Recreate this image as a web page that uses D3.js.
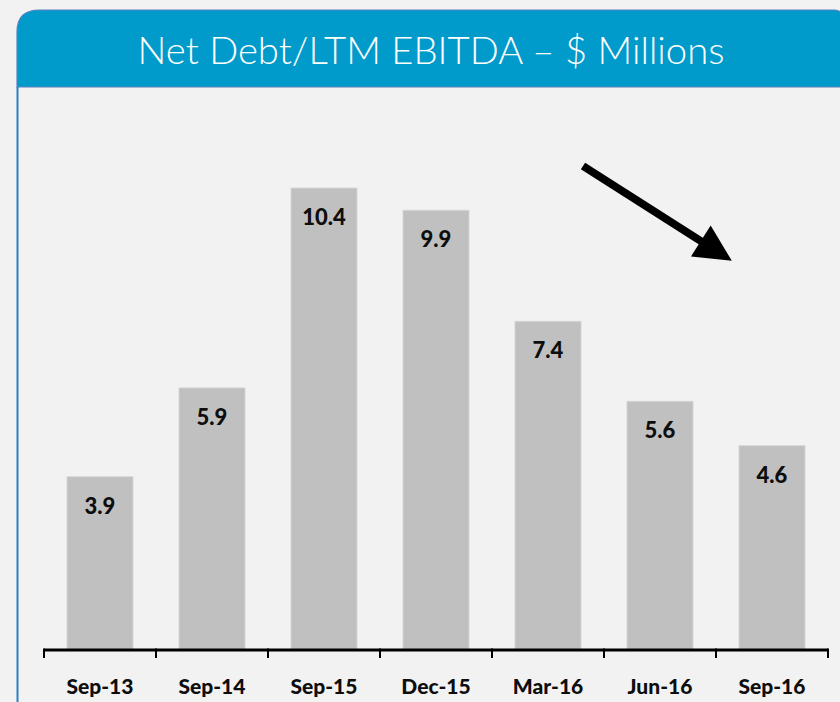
<!DOCTYPE html>
<html>
<head>
<meta charset="utf-8">
<script src="https://cdn.jsdelivr.net/npm/d3@7"></script>
<style>
  body { margin: 0; background: #f2f2f2; }
  svg { display: block; }
</style>
</head>
<body>
<div id="chart"></div>
<script>
const categories = ['Sep-13', 'Sep-14', 'Sep-15', 'Dec-15', 'Mar-16', 'Jun-16', 'Sep-16']
const values = [3.9, 5.9, 10.4, 9.9, 7.4, 5.6, 4.6]
const title = 'Net Debt/LTM EBITDA \u2013 $ Millions'

const width = 840
const height = 702

let svg = d3.select('#chart').append('svg')
    .attr('width', width)
    .attr('height', height)

svg.append('rect')
    .attr('width', width).attr('height', height)
    .attr('fill', '#f2f2f2')

// header panel with rounded top corners
let hx = 17, hy = 10, hw = 840 - 17 + 1, hh = 77, r = 22
svg.append('path')
    .attr('d', `M${hx},${hy + hh} L${hx},${hy + r} Q${hx},${hy} ${hx + r},${hy} L${hx + hw - 6},${hy} Q${hx + hw},${hy} ${hx + hw},${hy + 6} L${hx + hw},${hy + hh} Z`)
    .attr('fill', '#009bcb')
    .attr('stroke', '#5b80c0')
    .attr('stroke-width', 1.2)

// left border of panel
svg.append('line')
    .attr('x1', 17.5).attr('x2', 17.5)
    .attr('y1', hy + hh).attr('y2', height)
    .attr('stroke', '#2a80c2')
    .attr('stroke-width', 2)

svg.append('text')
    .attr('x', 431).attr('y', 64)
    .attr('text-anchor', 'middle')
    .attr('fill', 'white')
    .style('font-family', 'Lato, "Open Sans", sans-serif')
    .style('font-weight', 300)
    .style('font-size', '38px')
    .attr('textLength', 587)
    .attr('lengthAdjust', 'spacingAndGlyphs')
    .text(title)

let margin = {left: 44, right: 12, bottom: 52}
let baseY = 650

let x = d3.scaleBand()
    .domain(categories)
    .range([margin.left, 828])
    .paddingInner(0.41)
    .paddingOuter(0.205)

let y = d3.scaleLinear()
    .domain([0, 10.4])
    .range([baseY, 188])

let data = categories.map((c, i) => ({cat: c, v: values[i]}))

svg.selectAll('rect.bar')
    .data(data)
    .enter().append('rect')
    .attr('class', 'bar')
    .attr('x', d => x(d.cat))
    .attr('y', d => y(d.v))
    .attr('width', x.bandwidth())
    .attr('height', d => baseY - y(d.v))
    .attr('fill', '#c0c0c0')
    .attr('stroke', '#d6d6d6')
    .attr('stroke-width', 0.8)

svg.selectAll('text.val')
    .data(data)
    .enter().append('text')
    .attr('class', 'val')
    .attr('x', d => x(d.cat) + x.bandwidth() / 2)
    .attr('y', d => y(d.v) + 37)
    .attr('text-anchor', 'middle')
    .style('font-family', 'Lato, "Open Sans", sans-serif')
    .style('font-weight', 900)
    .style('font-size', '22px')
    .attr('fill', '#0d0d0d')
    .text(d => d.v.toFixed(1))

// axis with ticks between the categories
let step = x.step()
let tickPos = d3.range(categories.length + 1).map(i => margin.left + i * step)
let ax = svg.append('g')
ax.append('line')
    .attr('x1', margin.left).attr('x2', 828)
    .attr('y1', baseY).attr('y2', baseY)
    .attr('stroke', 'black').attr('stroke-width', 3)
ax.selectAll('line.tick')
    .data(tickPos)
    .enter().append('line')
    .attr('class', 'tick')
    .attr('x1', d => d).attr('x2', d => d)
    .attr('y1', baseY - 1.5).attr('y2', baseY + 8)
    .attr('stroke', 'black').attr('stroke-width', 2)

ax.selectAll('text.cat')
    .data(categories)
    .enter().append('text')
    .attr('class', 'cat')
    .attr('x', d => x(d) + x.bandwidth() / 2)
    .attr('y', 694)
    .attr('text-anchor', 'middle')
    .style('font-family', 'Lato, "Open Sans", sans-serif')
    .style('font-weight', 900)
    .style('font-size', '21px')
    .attr('fill', '#0d0d0d')
    .text(d => d)

// trend arrow
let defs = svg.append('defs')
defs.append('marker')
    .attr('id', 'head')
    .attr('viewBox', '0 0 10 10')
    .attr('refX', 2).attr('refY', 5)
    .attr('markerWidth', 4.8).attr('markerHeight', 4.6)
    .attr('markerUnits', 'strokeWidth')
    .attr('orient', 'auto')
    .append('path')
    .attr('d', 'M0,0 L10,5 L0,10 Z')
    .attr('fill', 'black')

svg.append('line')
    .attr('x1', 583).attr('y1', 166)
    .attr('x2', 707).attr('y2', 245)
    .attr('stroke', 'black')
    .attr('stroke-width', 8)
    .attr('marker-end', 'url(#head)')
</script>
</body>
</html>
